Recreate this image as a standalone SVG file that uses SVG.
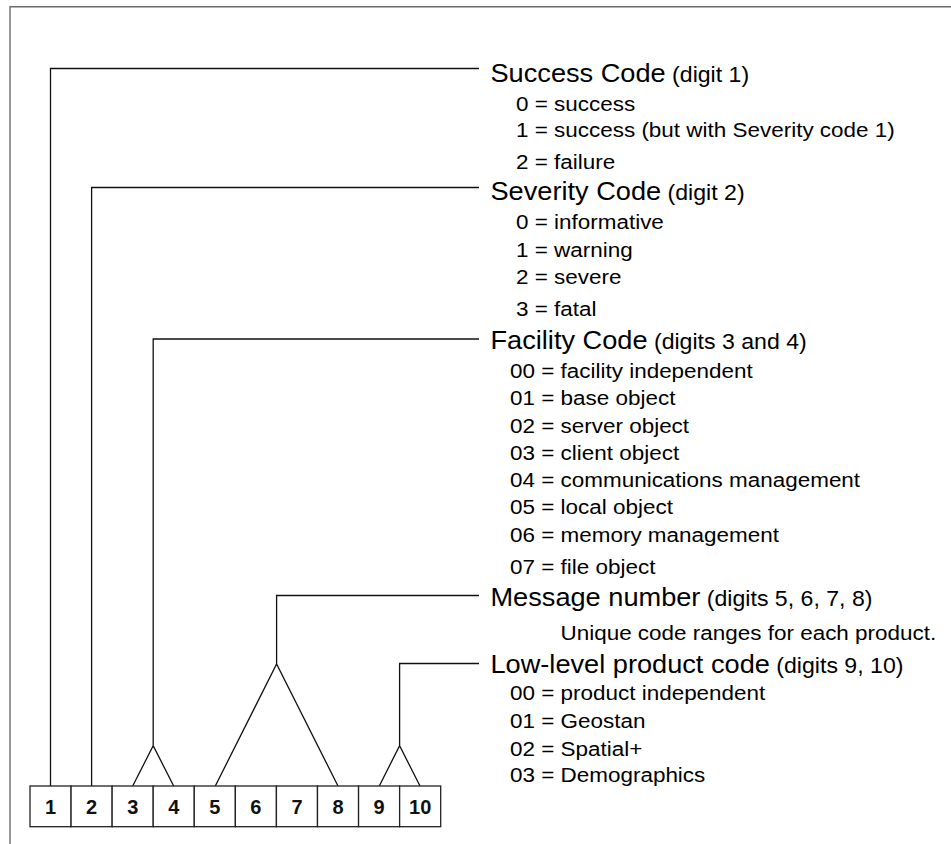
<svg xmlns="http://www.w3.org/2000/svg" width="951" height="844" viewBox="0 0 951 844">
<style>
.frame{fill:none;stroke:#6b6b6b;stroke-width:1.4}
.con{fill:none;stroke:#111;stroke-width:1.3}
.box{fill:#fff;stroke:#222;stroke-width:1.3}
.num{font-family:"Liberation Sans",Arial,sans-serif;font-weight:bold;font-size:20px;fill:#111;text-anchor:middle}
.t{font-family:"Liberation Sans",Arial,sans-serif;font-size:25.4px;fill:#000}
.p{font-size:21.6px}
.i{font-family:"Liberation Sans",Arial,sans-serif;font-size:21px;fill:#000}
</style>
<rect width="951" height="844" fill="#fff"/>
<path class="frame" d="M10,844 V6.7 H951"/>
<g id="connectors">
<path class="con" d="M50.5,786 V68.5 H479"/>
<path class="con" d="M91.6,786 V187.5 H479"/>
<path class="con" d="M132.7,786 L153.2,745.7 L173.7,786 M153.2,745.7 V339 H479"/>
<path class="con" d="M215.3,786 L276.6,664 L338,786 M276.6,664 V595.5 H479"/>
<path class="con" d="M379.3,786 L399.6,745.7 L420,786 M399.6,745.7 V663.5 H479"/>
</g>
<g id="digits">
<g id="d1"><rect class="box" x="30" y="786" width="41.07" height="40.7"/><text class="num" x="50.5" y="813.5">1</text></g>
<g id="d2"><rect class="box" x="71.07" y="786" width="41.07" height="40.7"/><text class="num" x="91.6" y="813.5">2</text></g>
<g id="d3"><rect class="box" x="112.14" y="786" width="41.07" height="40.7"/><text class="num" x="132.7" y="813.5">3</text></g>
<g id="d4"><rect class="box" x="153.21" y="786" width="41.07" height="40.7"/><text class="num" x="173.7" y="813.5">4</text></g>
<g id="d5"><rect class="box" x="194.28" y="786" width="41.07" height="40.7"/><text class="num" x="214.8" y="813.5">5</text></g>
<g id="d6"><rect class="box" x="235.35" y="786" width="41.07" height="40.7"/><text class="num" x="255.9" y="813.5">6</text></g>
<g id="d7"><rect class="box" x="276.42" y="786" width="41.07" height="40.7"/><text class="num" x="297" y="813.5">7</text></g>
<g id="d8"><rect class="box" x="317.49" y="786" width="41.07" height="40.7"/><text class="num" x="338" y="813.5">8</text></g>
<g id="d9"><rect class="box" x="358.56" y="786" width="41.07" height="40.7"/><text class="num" x="379.1" y="813.5">9</text></g>
<g id="d10"><rect class="box" x="399.63" y="786" width="41.07" height="40.7"/><text class="num" x="420.2" y="813.5">10</text></g>
</g>
<g transform="scale(1.07 1)">
<g id="success">
<text class="t" x="458.4" y="82">Success Code<tspan class="p"> (digit 1)</tspan></text>
<text class="i" x="482.2" y="111.5">0 = success</text>
<text class="i" x="482.2" y="137.5">1 = success (but with Severity code 1)</text>
<text class="i" x="482.2" y="169">2 = failure</text>
</g>
<g id="severity">
<text class="t" x="458.4" y="200">Severity Code<tspan class="p"> (digit 2)</tspan></text>
<text class="i" x="482.2" y="229">0 = informative</text>
<text class="i" x="482.2" y="257">1 = warning</text>
<text class="i" x="482.2" y="284.5">2 = severe</text>
<text class="i" x="482.2" y="316.5">3 = fatal</text>
</g>
<g id="facility">
<text class="t" x="458.4" y="349">Facility Code<tspan class="p"> (digits 3 and 4)</tspan></text>
<text class="i" x="476.6" y="378">00 = facility independent</text>
<text class="i" x="476.6" y="405.5">01 = base object</text>
<text class="i" x="476.6" y="433">02 = server object</text>
<text class="i" x="476.6" y="460">03 = client object</text>
<text class="i" x="476.6" y="487.5">04 = communications management</text>
<text class="i" x="476.6" y="514.5">05 = local object</text>
<text class="i" x="476.6" y="542.5">06 = memory management</text>
<text class="i" x="476.6" y="574">07 = file object</text>
</g>
<g id="message">
<text class="t" x="458.4" y="606">Message number<tspan class="p"> (digits 5, 6, 7, 8)</tspan></text>
<text class="i" x="523.8" y="640">Unique code ranges for each product.</text>
</g>
<g id="product">
<text class="t" x="458.4" y="673">Low-level product code<tspan class="p"> (digits 9, 10)</tspan></text>
<text class="i" x="476.6" y="700.5">00 = product independent</text>
<text class="i" x="476.6" y="728.5">01 = Geostan</text>
<text class="i" x="476.6" y="756.5">02 = Spatial+</text>
<text class="i" x="476.6" y="782.5">03 = Demographics</text>
</g>
</g>
</svg>
